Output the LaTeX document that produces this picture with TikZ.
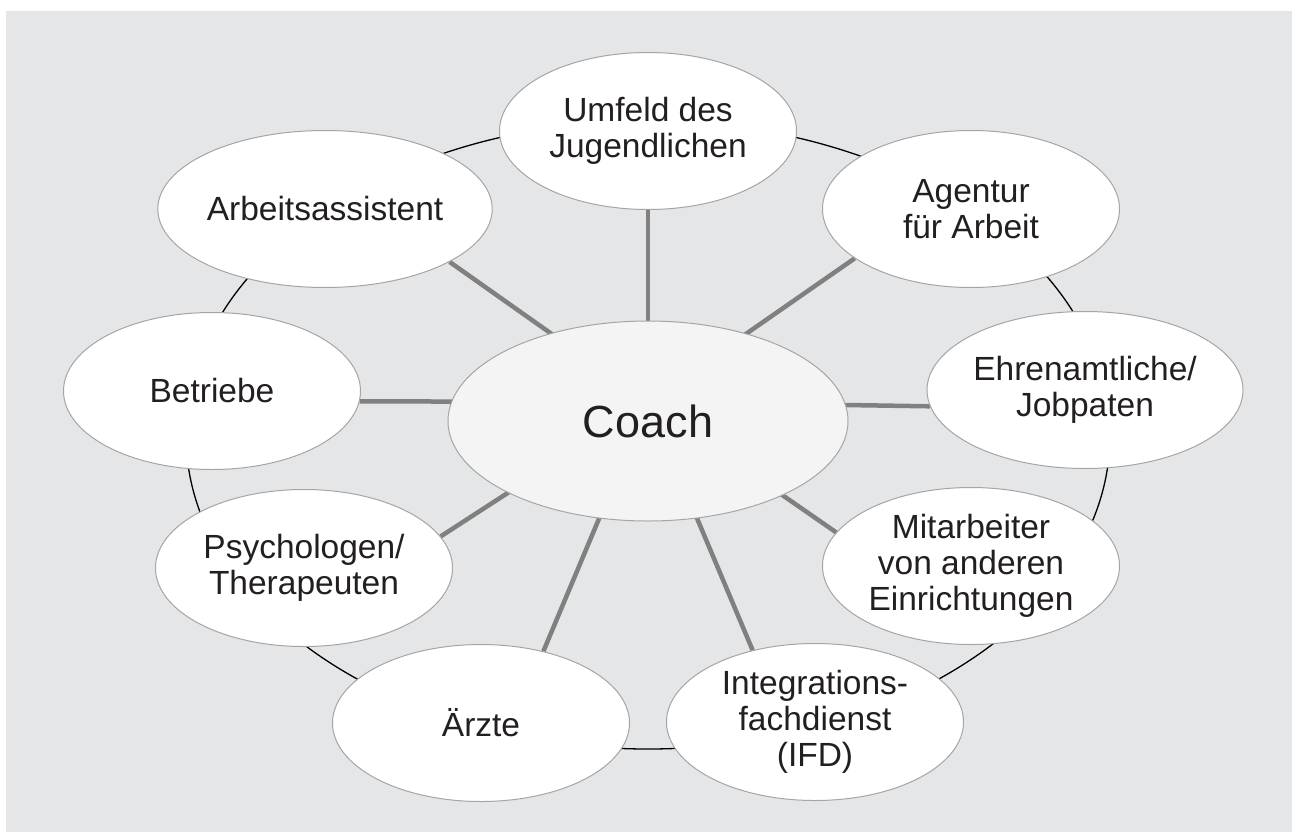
\documentclass[tikz,border=0pt]{standalone}
\usepackage{fontspec}
\setmainfont{Liberation Sans}
\usepackage{xcolor}
\usepackage{tikz}
\usetikzlibrary{shapes.geometric,backgrounds}

\definecolor{bggray}{RGB}{229,230,232}
\definecolor{rimgray}{RGB}{165,165,165}
\definecolor{spokegray}{RGB}{128,128,128}
\definecolor{coachfill}{RGB}{244,244,244}
\definecolor{txtcol}{RGB}{35,31,32}

\tikzset{
  partner/.style={ellipse,draw=rimgray,line width=1pt,fill=white,
    minimum width=297pt,minimum height=157pt,inner sep=0pt,align=center,
    text=txtcol,font=\fontsize{33.5}{36}\selectfont},
  coachnode/.style={partner,fill=coachfill,minimum width=400pt,
    minimum height=200pt,font=\fontsize{45}{50}\selectfont},
  spoke/.style={draw=spokegray,line width=4.5pt}
}

\begin{document}
\begin{tikzpicture}[x=1pt,y=-1pt]
\useasboundingbox (0,0) rectangle (1297,832);
\node[coachnode] (coach) at (648,421) {Coach};
\coordinate (hub) at ([yshift=19pt]coach.center);
\node[partner] (umfeld) at (648,131) {Umfeld des\\Jugendlichen};
\node[partner] (agentur) at (971,209) {Agentur\\für Arbeit};
\node[partner] (ehrenamt) at (1085,390) {Ehrenamtliche/\\Jobpaten};
\node[partner] (mitarbeiter) at (971,566) {Mitarbeiter\\von anderen\\Einrichtungen};
\node[partner] (ifd) at (815,722) {Integrations-\\fachdienst\\(IFD)};
\node[partner] (aerzte) at (481,723) {Ärzte};
\node[partner] (psycho) at (304,568) {Psychologen/\\Therapeuten};
\node[partner] (betriebe) at (212,391) {Betriebe};
\node[partner] (assistent) at (325,209) {Arbeitsassistent};
\begin{scope}[on background layer]
\fill[bggray] (6,11) rectangle (1292,832);
\draw[line width=1.3pt] (648,435) ellipse [x radius=462, y radius=314];
\foreach \n/\a in {umfeld/270,agentur/203,ehrenamt/186,mitarbeiter/166,ifd/131,
  aerzte/49,psycho/13,betriebe/356,assistent/337}{
  \draw[spoke] (hub) -- (\n.\a);
}
\end{scope}
\end{tikzpicture}
\end{document}
